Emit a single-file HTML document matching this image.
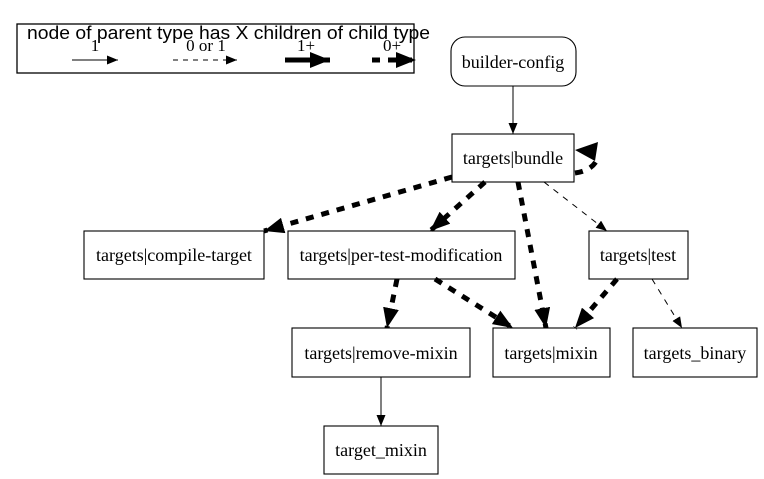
<!DOCTYPE html>
<html><head><meta charset="utf-8"><style>html,body{margin:0;padding:0;background:#fff}svg{display:block}</style></head>
<body>
<svg width="764" height="479" viewBox="0 0 764 479" xmlns="http://www.w3.org/2000/svg">
<defs>
<marker id="a" markerWidth="11" markerHeight="9" refX="11" refY="4.5" orient="auto" markerUnits="userSpaceOnUse"><path d="M0,0 L11,4.5 L0,9 Z"/></marker>
<marker id="b" markerWidth="20" markerHeight="16" refX="20" refY="8" orient="auto" markerUnits="userSpaceOnUse"><path d="M0,0 L20,8 L0,16 Z"/></marker>
</defs>
<g font-family="Liberation Serif, serif" font-size="18" text-anchor="middle" fill="#000">
<rect x="17" y="24" width="397" height="49" fill="none" stroke="#000" stroke-width="1.3"/>
<text x="27" y="39" text-anchor="start" font-family="Liberation Sans, sans-serif" font-size="18" textLength="403" lengthAdjust="spacingAndGlyphs">node of parent type has X children of child type</text>
<g font-size="17"><text x="95" y="51">1</text><text x="206" y="51">0 or 1</text><text x="306" y="51">1+</text><text x="392" y="51">0+</text></g>
<line x1="72" y1="60" x2="118" y2="60" stroke="#000" marker-end="url(#a)"/>
<line x1="173" y1="60" x2="237" y2="60" stroke="#000" stroke-dasharray="5,5" marker-end="url(#a)"/>
<line x1="285" y1="60" x2="330" y2="60" stroke="#000" stroke-width="5" marker-end="url(#b)"/>
<line x1="372" y1="60" x2="416" y2="60" stroke="#000" stroke-width="5" stroke-dasharray="8,8" marker-end="url(#b)"/>

<g fill="none" stroke="#000" stroke-width="1.1">
<rect x="451" y="37" width="125" height="49" rx="14"/>
<rect x="452" y="134" width="122" height="48"/>
<rect x="84" y="231" width="180" height="48"/>
<rect x="288" y="231" width="227" height="48"/>
<rect x="589" y="231" width="99" height="48"/>
<rect x="292" y="328" width="178" height="49"/>
<rect x="493" y="328" width="117" height="49"/>
<rect x="633" y="328" width="124" height="49"/>
<rect x="324" y="426" width="114" height="48"/>
</g>
<text x="513" y="68">builder-config</text>
<text x="513" y="164">targets|bundle</text>
<text x="174" y="261">targets|compile-target</text>
<text x="401" y="261">targets|per-test-modification</text>
<text x="638" y="261">targets|test</text>
<text x="381" y="359">targets|remove-mixin</text>
<text x="551" y="359">targets|mixin</text>
<text x="695" y="359">targets_binary</text>
<text x="381" y="456">target_mixin</text>

<polygon points="575,150 598,142 595,161" fill="#000"/>
<g fill="none" stroke="#000">
<line x1="513" y1="86" x2="513" y2="134" marker-end="url(#a)"/>
<line x1="381" y1="377" x2="381" y2="426" marker-end="url(#a)"/>
<line x1="544" y1="182" x2="607" y2="231" stroke-dasharray="6,6" marker-end="url(#a)"/>
<line x1="652" y1="279" x2="682" y2="328" stroke-dasharray="6,6" marker-end="url(#a)"/>
<g stroke-width="5" stroke-dasharray="8,8">
<line x1="452" y1="177" x2="264" y2="231" marker-end="url(#b)"/>
<line x1="485" y1="182" x2="430" y2="231" marker-end="url(#b)"/>
<line x1="518" y1="182" x2="546" y2="328" marker-end="url(#b)"/>
<line x1="397" y1="279" x2="387" y2="328" marker-end="url(#b)"/>
<line x1="435" y1="279" x2="513" y2="328" marker-end="url(#b)"/>
<line x1="617" y1="279" x2="575" y2="328" marker-end="url(#b)"/>
<path d="M575,173 Q591,171 597,160"/>
</g>
</g>
</g>
</svg>
</body></html>
